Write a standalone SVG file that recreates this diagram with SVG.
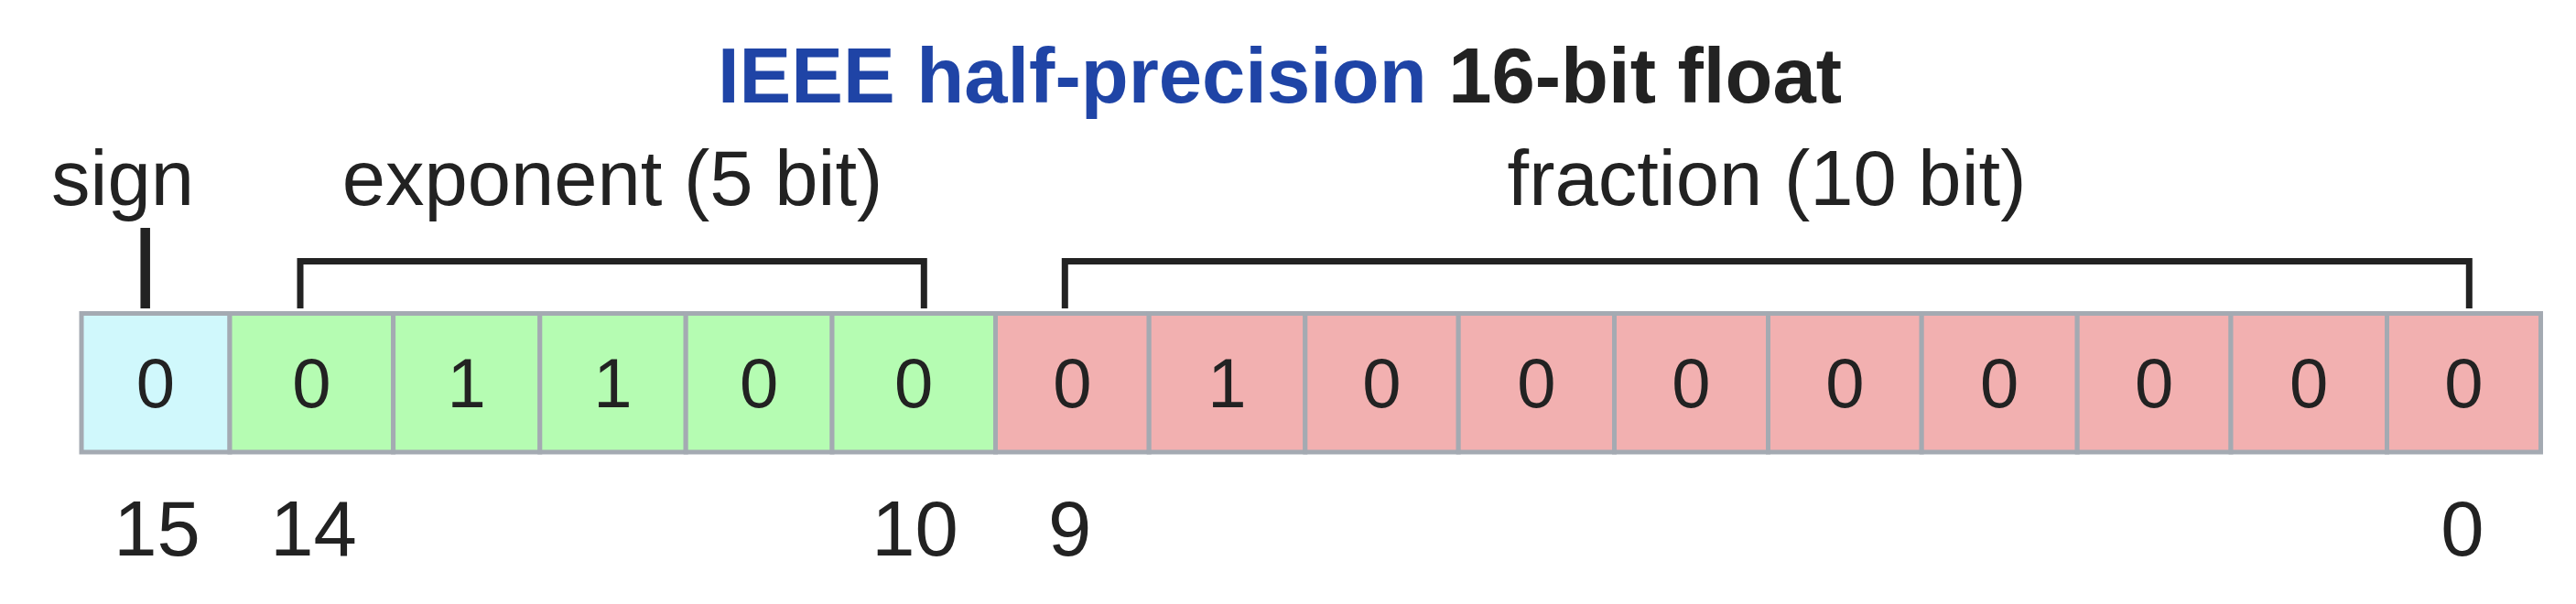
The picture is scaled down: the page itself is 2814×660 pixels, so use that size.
<svg xmlns="http://www.w3.org/2000/svg" width="2814" height="660" viewBox="0 0 2814 660">
<style>
  .bg { fill: #ffffff; }
  .cell { stroke: #a4aab2; stroke-width: 5; }
  .sign { fill: #d0f8fc; }
  .exp { fill: #b5fcb2; }
  .frac { fill: #f2b0b0; }
  .bit { font-family: "Liberation Sans", Arial, sans-serif; font-size: 76px; fill: #222222; text-anchor: middle; }
  .idx { font-family: "Liberation Sans", Arial, sans-serif; font-size: 85px; fill: #222222; text-anchor: middle; }
  .lbl { font-family: "Liberation Sans", Arial, sans-serif; font-size: 85px; fill: #222222; text-anchor: middle; }
  .title { font-family: "Liberation Sans", Arial, sans-serif; font-size: 85px; font-weight: bold; fill: #222222; text-anchor: middle; }
  .blue { fill: #1f44a6; }
  .brk { fill: none; stroke: #222222; stroke-width: 7; stroke-linejoin: miter; }
  .tick { stroke: #222222; stroke-width: 10.5; }
</style>
<rect class="bg" x="0" y="0" width="2814" height="660"/>
<g id="title">
  <text class="title" x="1398" y="112"><tspan class="blue">IEEE half-precision</tspan> 16-bit float</text>
</g>
<g id="labels">
  <text id="label-sign" class="lbl" x="134" y="224">sign</text>
  <text id="label-exponent" class="lbl" x="669" y="224">exponent (5 bit)</text>
  <text id="label-fraction" class="lbl" x="1930" y="224">fraction (10 bit)</text>
</g>
<g id="connectors">
  <line class="tick" x1="158.7" y1="249" x2="158.7" y2="337"/>
  <path class="brk" d="M328,337 V285.4 H1009.3 V337"/>
  <path class="brk" d="M1163.3,337 V285.4 H2697.3 V337"/>
</g>
<g id="bit15"><rect class="cell sign" x="89" y="342.5" width="162" height="151.5"/><text class="bit" x="170" y="444.5">0</text></g>
<g id="bit14"><rect class="cell exp" x="251" y="342.5" width="178.6" height="151.5"/><text class="bit" x="340.3" y="444.5">0</text></g>
<g id="bit13"><rect class="cell exp" x="429.6" y="342.5" width="160.2" height="151.5"/><text class="bit" x="509.7" y="444.5">1</text></g>
<g id="bit12"><rect class="cell exp" x="589.8" y="342.5" width="159.4" height="151.5"/><text class="bit" x="669.5" y="444.5">1</text></g>
<g id="bit11"><rect class="cell exp" x="749.2" y="342.5" width="159.8" height="151.5"/><text class="bit" x="829.1" y="444.5">0</text></g>
<g id="bit10"><rect class="cell exp" x="909" y="342.5" width="178.5" height="151.5"/><text class="bit" x="998.2" y="444.5">0</text></g>
<g id="bit9"><rect class="cell frac" x="1087.5" y="342.5" width="167.7" height="151.5"/><text class="bit" x="1171.3" y="444.5">0</text></g>
<g id="bit8"><rect class="cell frac" x="1255.2" y="342.5" width="170.6" height="151.5"/><text class="bit" x="1340.5" y="444.5">1</text></g>
<g id="bit7"><rect class="cell frac" x="1425.8" y="342.5" width="167.4" height="151.5"/><text class="bit" x="1509.5" y="444.5">0</text></g>
<g id="bit6"><rect class="cell frac" x="1593.2" y="342.5" width="170.3" height="151.5"/><text class="bit" x="1678.3" y="444.5">0</text></g>
<g id="bit5"><rect class="cell frac" x="1763.5" y="342.5" width="168" height="151.5"/><text class="bit" x="1847.5" y="444.5">0</text></g>
<g id="bit4"><rect class="cell frac" x="1931.5" y="342.5" width="167.7" height="151.5"/><text class="bit" x="2015.3" y="444.5">0</text></g>
<g id="bit3"><rect class="cell frac" x="2099.2" y="342.5" width="170" height="151.5"/><text class="bit" x="2184.2" y="444.5">0</text></g>
<g id="bit2"><rect class="cell frac" x="2269.2" y="342.5" width="167.8" height="151.5"/><text class="bit" x="2353.1" y="444.5">0</text></g>
<g id="bit1"><rect class="cell frac" x="2437" y="342.5" width="170.5" height="151.5"/><text class="bit" x="2522.2" y="444.5">0</text></g>
<g id="bit0"><rect class="cell frac" x="2607.5" y="342.5" width="168" height="151.5"/><text class="bit" x="2691.5" y="444.5">0</text></g>
<g id="indices">
  <text class="idx" x="171.5" y="607">15</text>
  <text class="idx" x="342.6" y="607">14</text>
  <text class="idx" x="999.5" y="607">10</text>
  <text class="idx" x="1168.6" y="607">9</text>
  <text class="idx" x="2690" y="607">0</text>
</g>
</svg>
